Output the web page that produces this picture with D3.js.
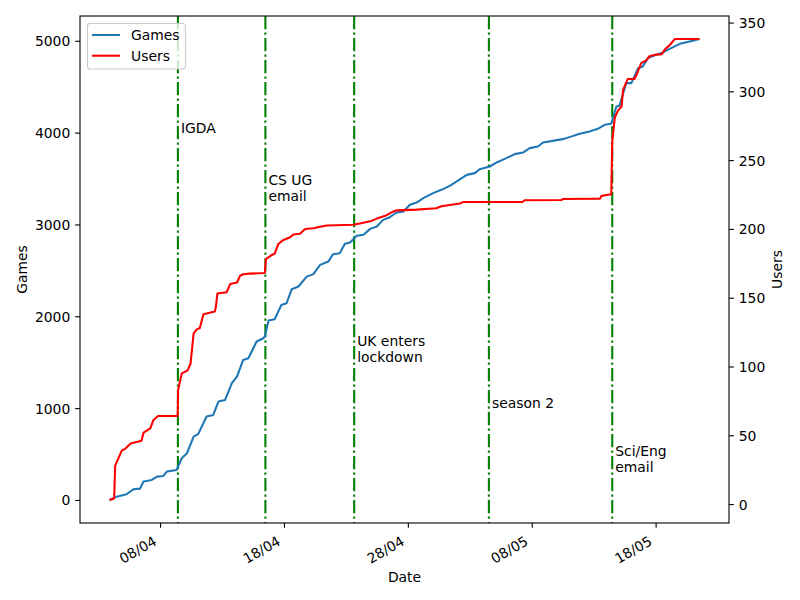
<!DOCTYPE html>
<html>
<head>
<meta charset="utf-8">
<script src="https://cdn.jsdelivr.net/npm/d3@7"></script>
<style>
    body { margin: 0; background: #fff; }
    text { font-family: "DejaVu Sans", sans-serif; font-size: 13.9px; fill: #000; }
    .axis path { display: none; }
    .axis line { stroke: #000; stroke-width: 1.1px; }
</style>
</head>
<body>
<div id="chart"></div>
<script>

// cumulative games played
var gameTimes = ["03/04 22:00", "04/04 12:00", "05/04 07:00", "05/04 20:00", "06/04 09:00", "06/04 16:00",
    "07/04 08:00", "07/04 18:00", "08/04 06:00", "08/04 13:00", "09/04 08:00", "09/04 18:00",
    "10/04 04:00", "10/04 17:00", "11/04 02:00", "11/04 18:00", "12/04 07:00", "12/04 17:00",
    "13/04 06:00", "13/04 19:00", "14/04 05:00", "14/04 17:00", "15/04 03:00", "15/04 19:00",
    "16/04 08:00", "16/04 11:00", "16/04 18:00", "17/04 06:00", "17/04 19:00", "18/04 05:00",
    "18/04 15:00", "19/04 04:00", "19/04 20:00", "20/04 09:00", "20/04 22:00", "21/04 14:00",
    "21/04 23:00", "22/04 12:00", "22/04 22:00", "23/04 08:00", "23/04 21:00", "24/04 10:00",
    "24/04 23:00", "25/04 12:00", "26/04 00:00", "26/04 13:00", "27/04 02:00", "27/04 15:00",
    "28/04 04:00", "28/04 17:00", "29/04 06:00", "30/04 01:00", "30/04 17:00", "01/05 09:00",
    "01/05 22:00", "02/05 18:00", "03/05 10:00", "03/05 19:00", "04/05 15:00", "05/05 04:00",
    "05/05 23:00", "06/05 15:00", "07/05 07:00", "07/05 20:00", "08/05 12:00", "08/05 22:00",
    "10/05 12:00", "11/05 01:00", "11/05 21:00", "12/05 16:00", "13/05 08:00", "13/05 21:00",
    "14/05 10:00", "14/05 20:00", "15/05 02:00", "15/05 15:00", "16/05 01:00", "16/05 14:00",
    "16/05 23:00", "17/05 09:00", "18/05 01:00", "18/05 14:00", "19/05 06:00", "19/05 23:00",
    "20/05 18:00", "21/05 13:00"];
var gameCounts = [0, 36, 62, 116, 123, 200,
    218, 254, 260, 309, 327, 454,
    508, 690, 719, 908, 926, 1071,
    1089, 1271, 1343, 1525, 1543, 1725,
    1761, 1779, 1953, 1968, 2124, 2142,
    2295, 2324, 2432, 2459, 2560, 2596,
    2676, 2687, 2789, 2803, 2876, 2887,
    2952, 2977, 3050, 3079, 3130, 3140,
    3214, 3239, 3286, 3341, 3377, 3420,
    3467, 3540, 3559, 3602, 3631, 3675,
    3722, 3766, 3783, 3831, 3849, 3892,
    3929, 3951, 3987, 4012, 4041, 4085,
    4096, 4284, 4292, 4539, 4539, 4702,
    4720, 4811, 4847, 4873, 4920, 4967,
    4993, 5019];

// cumulative registered users
var userTimes = ["03/04 22:00", "04/04 07:00", "04/04 09:00", "04/04 22:00", "05/04 04:00", "05/04 15:00",
    "06/04 12:00", "06/04 16:00", "07/04 05:00", "07/04 11:00", "07/04 20:00", "09/04 10:00",
    "09/04 11:00", "09/04 18:00", "10/04 05:00", "10/04 11:00", "10/04 17:00", "10/04 23:00",
    "11/04 05:00", "11/04 12:00", "12/04 10:00", "12/04 12:00", "12/04 15:00", "13/04 09:00",
    "13/04 16:00", "14/04 05:00", "14/04 11:00", "14/04 17:00", "15/04 06:00", "16/04 11:00",
    "16/04 13:00", "17/04 00:00", "17/04 06:00", "17/04 13:00", "17/04 23:00", "18/04 12:00",
    "18/04 18:00", "19/04 07:00", "19/04 17:00", "20/04 09:00", "20/04 22:00", "21/04 11:00",
    "23/04 14:00", "24/04 03:00", "24/04 23:00", "25/04 12:00", "26/04 07:00", "26/04 19:00",
    "27/04 02:00", "28/04 17:00", "30/04 07:00", "30/04 17:00", "02/05 05:00", "02/05 11:00",
    "07/05 06:00", "07/05 10:00", "10/05 10:00", "10/05 12:00", "13/05 12:00", "13/05 15:00",
    "14/05 07:00", "14/05 10:00", "14/05 12:00", "14/05 17:00", "14/05 23:00", "15/05 06:00",
    "15/05 09:00", "15/05 18:00", "16/05 07:00", "16/05 11:00", "16/05 20:00", "17/05 06:00",
    "17/05 12:00", "18/05 01:00", "18/05 12:00", "18/05 18:00", "19/05 03:00", "19/05 13:00",
    "21/05 13:00"];
var userCounts = [3, 4, 28, 39, 40, 44,
    46, 52, 55, 61, 64, 64,
    83, 95, 97, 102, 124, 127,
    128, 138, 140, 143, 153, 154,
    160, 161, 166, 167, 167.5, 168,
    178, 181, 182, 189, 192, 194,
    196, 196.5, 200, 200.5, 201.5, 202.5,
    203, 204, 205.5, 207.5, 210, 212.5,
    213.5, 214, 215, 216.5, 218.5, 219.5,
    219.6, 220.8, 221, 221.8, 222, 224,
    225, 225, 264, 281, 286, 289,
    301, 309, 309, 312, 320.5, 322.5,
    325.5, 326.7, 327, 330.5, 333.5, 338,
    338];

// publicity events marked with vertical lines
var eventTimes = ["09/04 10:30", "16/04 12:00", "23/04 16:00", "04/05 13:00", "14/05 12:00"];
var eventLabels = [["IGDA"], ["CS UG", "email"], ["UK enters", "lockdown"], ["season 2"], ["Sci/Eng", "email"]];
var eventTextGames = [4000, 3250, 1500, 1000, 300];

var dateTicks = ["08/04 00:00", "18/04 00:00", "28/04 00:00", "08/05 00:00", "18/05 00:00"];

var params = {
    width: 649, height: 507,
    margin_left: 80, margin_top: 16,
    tick: 4.86, font: 13.9
};

function pad_value([x0, x1], frac) {
    var k = (x1 - x0) * frac;
    return [x0 - k, x1 + k];
}

var parseTime = d3.utcParse("%d/%m %H:%M");

var games = gameTimes.map(function(t, i) { return { date: parseTime(t), value: gameCounts[i] }; });
var users = userTimes.map(function(t, i) { return { date: parseTime(t), value: userCounts[i] }; });

var allDates = games.concat(users).map(function(d) { return +d.date; });

var x = d3.scaleUtc()
    .domain(pad_value(d3.extent(allDates), 0.05).map(function(v) { return new Date(v); }))
    .range([0, params.width]);
var yGames = d3.scaleLinear()
    .domain(pad_value(d3.extent(gameCounts), 0.05))
    .range([params.height, 0]);
var yUsers = d3.scaleLinear()
    .domain(pad_value(d3.extent(userCounts), 0.05))
    .range([params.height, 0]);

var svg = d3.select("#chart")
    .append("svg")
    .attr("width", 800)
    .attr("height", 600)
    .append("g")
        .attr("transform", "translate(" + params.margin_left + "," + params.margin_top + ")");

// bottom axis, labels tilted like autofmt_xdate
var x_axis = d3.axisBottom(x)
    .tickValues(dateTicks.map(parseTime))
    .tickFormat(d3.utcFormat("%d/%m"))
    .tickSize(params.tick)
    .tickPadding(params.tick);

svg.append("g")
    .attr("class", "axis")
    .attr("transform", "translate(0," + params.height + ")")
    .call(x_axis)
    .selectAll(".tick text")
        .attr("text-anchor", "end")
        .attr("y", 0)
        .attr("dy", 0)
        .attr("transform", "translate(-3,21) rotate(-30)");

// left axis (games)
svg.append("g")
    .attr("class", "axis")
    .call(d3.axisLeft(yGames)
        .tickValues(d3.range(0, 5001, 1000))
        .tickFormat(d3.format("d"))
        .tickSize(params.tick)
        .tickPadding(params.tick))
    .selectAll(".tick text").attr("dy", "0.36em");

// right axis (users)
svg.append("g")
    .attr("class", "axis")
    .attr("transform", "translate(" + params.width + ",0)")
    .call(d3.axisRight(yUsers)
        .tickValues(d3.range(0, 351, 50))
        .tickFormat(d3.format("d"))
        .tickSize(params.tick)
        .tickPadding(params.tick))
    .selectAll(".tick text").attr("dy", "0.36em");

// event lines
svg.selectAll(".event")
    .data(eventTimes).enter()
    .append("line")
        .attr("class", "event")
        .attr("x1", function(d) { return x(parseTime(d)); })
        .attr("x2", function(d) { return x(parseTime(d)); })
        .attr("y1", 0)
        .attr("y2", params.height)
        .style("stroke", "#008000")
        .style("stroke-width", 2.08)
        .style("stroke-dasharray", "13.3,3.3,2.1,3.3");

// event captions, last line sits on the given games value
var captions = svg.selectAll(".caption")
    .data(eventTimes).enter()
    .append("text")
        .attr("class", "caption")
        .attr("x", function(d) { return x(parseTime(d)) + 3; })
        .attr("y", function(d, i) { return yGames(eventTextGames[i]) - (eventLabels[i].length - 1) * 16.7; });

captions.selectAll("tspan")
    .data(function(d, i) { return eventLabels[i]; }).enter()
    .append("tspan")
        .attr("x", function() { return d3.select(this.parentNode).attr("x"); })
        .attr("dy", function(d, j) { return j == 0 ? 0 : 16.7; })
        .text(function(d) { return d; });

// the two series
var gameLine = d3.line()
    .x(function(d) { return x(d.date); })
    .y(function(d) { return yGames(d.value); });
var userLine = d3.line()
    .x(function(d) { return x(d.date); })
    .y(function(d) { return yUsers(d.value); });

svg.append("path")
    .datum(games)
    .attr("d", gameLine)
    .style("fill", "none")
    .style("stroke", "#1f77b4")
    .style("stroke-width", 2.08)
    .style("stroke-linejoin", "round");

svg.append("path")
    .datum(users)
    .attr("d", userLine)
    .style("fill", "none")
    .style("stroke", "#ff0000")
    .style("stroke-width", 2.08)
    .style("stroke-linejoin", "round");

// frame
svg.append("rect")
    .attr("width", params.width)
    .attr("height", params.height)
    .style("fill", "none")
    .style("stroke", "#000")
    .style("stroke-width", 1.1);

// axis labels
svg.append("text")
    .attr("transform", "rotate(-90)")
    .attr("x", -params.height / 2)
    .attr("y", 22 - params.margin_left)
    .attr("dy", "0.36em")
    .attr("text-anchor", "middle")
    .text("Games");

svg.append("text")
    .attr("transform", "rotate(-90)")
    .attr("x", -params.height / 2)
    .attr("y", 777 - params.margin_left)
    .attr("dy", "0.36em")
    .attr("text-anchor", "middle")
    .text("Users");

svg.append("text")
    .attr("x", params.width / 2)
    .attr("y", 577 - params.margin_top)
    .attr("dy", "0.36em")
    .attr("text-anchor", "middle")
    .text("Date");

// legend
var legendNames = ["Games", "Users"];
var legendColors = ["#1f77b4", "#ff0000"];

svg.append("rect")
    .attr("x", 7.5)
    .attr("y", 7.5)
    .attr("width", 98)
    .attr("height", 45.5)
    .attr("rx", 2.8)
    .style("fill", "#fff")
    .style("fill-opacity", 0.8)
    .style("stroke", "#cccccc")
    .style("stroke-width", 1.1);

var legend = svg.selectAll(".legend")
    .data(legendNames).enter()
    .append("g")
        .attr("class", "legend")
        .attr("transform", function(d, i) { return "translate(12," + (19 + i * 20.7) + ")"; });

legend.append("line")
    .attr("x1", 0)
    .attr("x2", 28)
    .style("stroke", function(d, i) { return legendColors[i]; })
    .style("stroke-width", 2.08);

legend.append("text")
    .attr("x", 39)
    .attr("dy", "0.36em")
    .text(function(d) { return d; });

</script>
</body>
</html>
